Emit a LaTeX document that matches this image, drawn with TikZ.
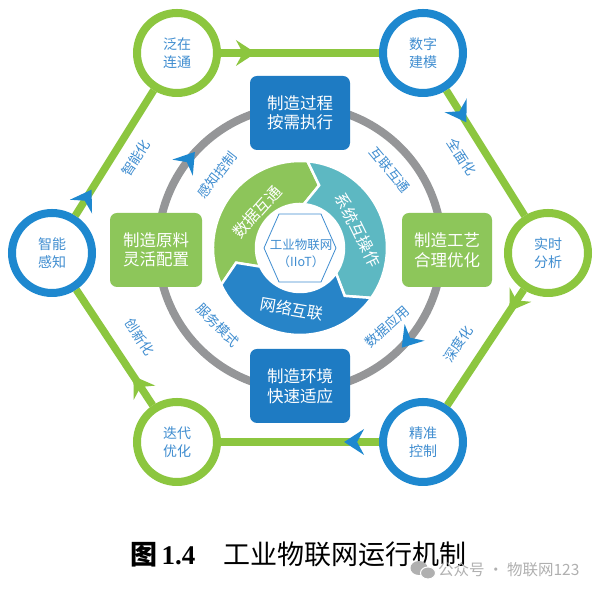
\documentclass[tikz,border=0pt]{standalone}
\usepackage{fontspec}
\setmainfont{Liberation Serif}
\newfontfamily\cjk{Noto Sans CJK SC}
\usetikzlibrary{calc}
\definecolor{hexgreen}{HTML}{8CC63F}
\definecolor{cblue}{HTML}{1E88CF}
\definecolor{boxblue}{HTML}{1E7BC3}
\definecolor{boxgreen}{HTML}{8DC65A}
\definecolor{segteal}{HTML}{5DB8C2}
\definecolor{segblue}{HTML}{2784C8}
\definecolor{seggreen}{HTML}{8DC55A}
\definecolor{ringgray}{HTML}{959698}
\definecolor{txtblue}{HTML}{3F8DD0}
\definecolor{wmgray}{HTML}{B0B0B0}
\tikzset{
  pics/chevron/.style={code={\fill (11,0) -- (-9,13) -- (-2,0) -- (-9,-13) -- cycle;}},
  ringnode/.style={circle, line width=8pt, fill=white, minimum size=80pt, inner sep=0pt,
    font=\cjk\fontsize{14}{18.5}\selectfont, text=txtblue, align=center},
  gring/.style={ringnode, draw=hexgreen},
  bring/.style={ringnode, draw=cblue},
  mbox/.style={rounded corners=7pt, minimum height=74pt, inner sep=0pt,
    font=\cjk\fontsize{16.5}{19.5}\selectfont, text=white, align=center},
  hexline/.style={draw=hexgreen, line width=7.5pt},
  ringline/.style={draw=ringgray, line width=8pt},
  elabel/.style={font=\cjk\fontsize{13.5}{16}\selectfont, text=txtblue, inner sep=0pt},
  segtext/.style={font=\cjk\fontsize{16}{18}\selectfont, text=white, inner sep=0pt},
  segpart/.style={draw=white, line width=2.5pt},
}
\begin{document}
\begin{tikzpicture}[x=1pt,y=1pt]
\useasboundingbox (0,0) rectangle (598,593);
\fill[white] (0,0) rectangle (598,593);
\coordinate (C) at (300,345);

% gray ring
\draw[ringline] (C) circle[radius=142];

% boxes on the ring
\node[mbox, fill=boxblue, minimum width=100pt] (bt) at (300,480) {制造过程\\按需执行};
\node[mbox, fill=boxgreen, minimum width=92pt] (bl) at (156,343) {制造原料\\灵活配置};
\node[mbox, fill=boxgreen, minimum width=90pt] (br) at (447,343) {制造工艺\\合理优化};
\node[mbox, fill=boxblue, minimum width=100pt] (bb) at (300,207) {制造环境\\快速适应};

% inner cycle segments
\begin{scope}[shift={(C)}]
  \path[segpart, fill=seggreen] (205:87) arc[start angle=205, end angle=85, radius=87]
     -- (73:65.5) -- (85:44) arc[start angle=85, end angle=205, radius=44] -- (193:65.5) -- cycle;
  \path[segpart, fill=segteal] (85:87) arc[start angle=85, end angle=-35, radius=87]
     -- (-47:65.5) -- (-35:44) arc[start angle=-35, end angle=85, radius=44] -- (73:65.5) -- cycle;
  \path[segpart, fill=segblue] (-35:87) arc[start angle=-35, end angle=-155, radius=87]
     -- (-167:65.5) -- (-155:44) arc[start angle=-155, end angle=-35, radius=44] -- (-47:65.5) -- cycle;
  \path[fill=white, draw=txtblue, line width=0.8pt] (-36,0) -- (-21,34) -- (21,34) -- (36,0) -- (21,-34) -- (-21,-34) -- cycle;
\end{scope}
\node[font=\cjk\fontsize{12.5}{17}\selectfont, text=txtblue, align=center, inner sep=0pt] (iiot) at (301,340) {工业物联网\\（IIoT）};

\node[segtext, rotate=48] (s1) at (257,381) {数据互通};
\node[segtext, rotate=-64] (s2) at (358,363) {系统互操作};
\node[segtext, rotate=-10] (s3) at (292,284) {网络互联};

% ring labels and chevrons
\node[elabel, rotate=52] (r1) at (217,418) {感知控制};
\node[elabel, rotate=-50] (r2) at (390,423) {互联互通};
\node[elabel, rotate=-45] (r3) at (218,268) {服务模式};
\node[elabel, rotate=42] (r4) at (387,266) {数据应用};
\pic[color=cblue, rotate=52] at ($(C)+(142:142)$) {chevron};
\pic[color=cblue, rotate=-130] at ($(C)+(-40:142)$) {chevron};

% outer hexagon circles
\node[gring] (c1) at (177,540) {泛在\\连通};
\node[bring] (c2) at (423,540) {数字\\建模};
\node[gring] (c3) at (548,340) {实时\\分析};
\node[bring] (c4) at (423,151) {精准\\控制};
\node[gring] (c5) at (177,151) {迭代\\优化};
\node[bring] (c6) at (52,340) {智能\\感知};

\draw[hexline] (c1) -- (c2);
\draw[hexline] (c2) -- (c3);
\draw[hexline] (c3) -- (c4);
\draw[hexline] (c4) -- (c5);
\draw[hexline] (c5) -- (c6);
\draw[hexline] (c6) -- (c1);

\pic[color=hexgreen, rotate=0] at ($(c1)!0.276!(c2)$) {chevron};
\pic[color=cblue, rotate=-58] at ($(c2)!0.30!(c3)$) {chevron};
\pic[color=hexgreen, rotate=-123.5] at ($(c3)!0.26!(c4)$) {chevron};
\pic[color=cblue, rotate=180] at ($(c4)!0.276!(c5)$) {chevron};
\pic[color=hexgreen, rotate=123.5] at ($(c5)!0.30!(c6)$) {chevron};
\pic[color=cblue, rotate=58] at ($(c6)!0.27!(c1)$) {chevron};

% edge labels
\node[elabel, rotate=57] (e1) at (136,435) {智能化};
\node[elabel, rotate=-57] (e2) at (462,436) {全面化};
\node[elabel, rotate=57] (e3) at (458,249) {深度化};
\node[elabel, rotate=-57] (e4) at (140,256) {创新化};

% caption
\node[anchor=base west, inner sep=0pt] (cap) at (130,28)
  {\fontsize{27}{30}\selectfont{\cjk\bfseries 图}\,{\bfseries 1.4}\hspace{28pt}{\cjk 工业物联网运行机制}};

% watermark
\fill[wmgray] (419,25) ellipse[x radius=8.5, y radius=7];
\fill[wmgray, draw=white, line width=1pt] (428,20) ellipse[x radius=7.5, y radius=6];
\node[anchor=west, inner sep=0pt, text=wmgray, font=\cjk\fontsize{15.5}{17}\selectfont] (wm) at (438,23) {公众号 · 物联网123};
\end{tikzpicture}
\end{document}
